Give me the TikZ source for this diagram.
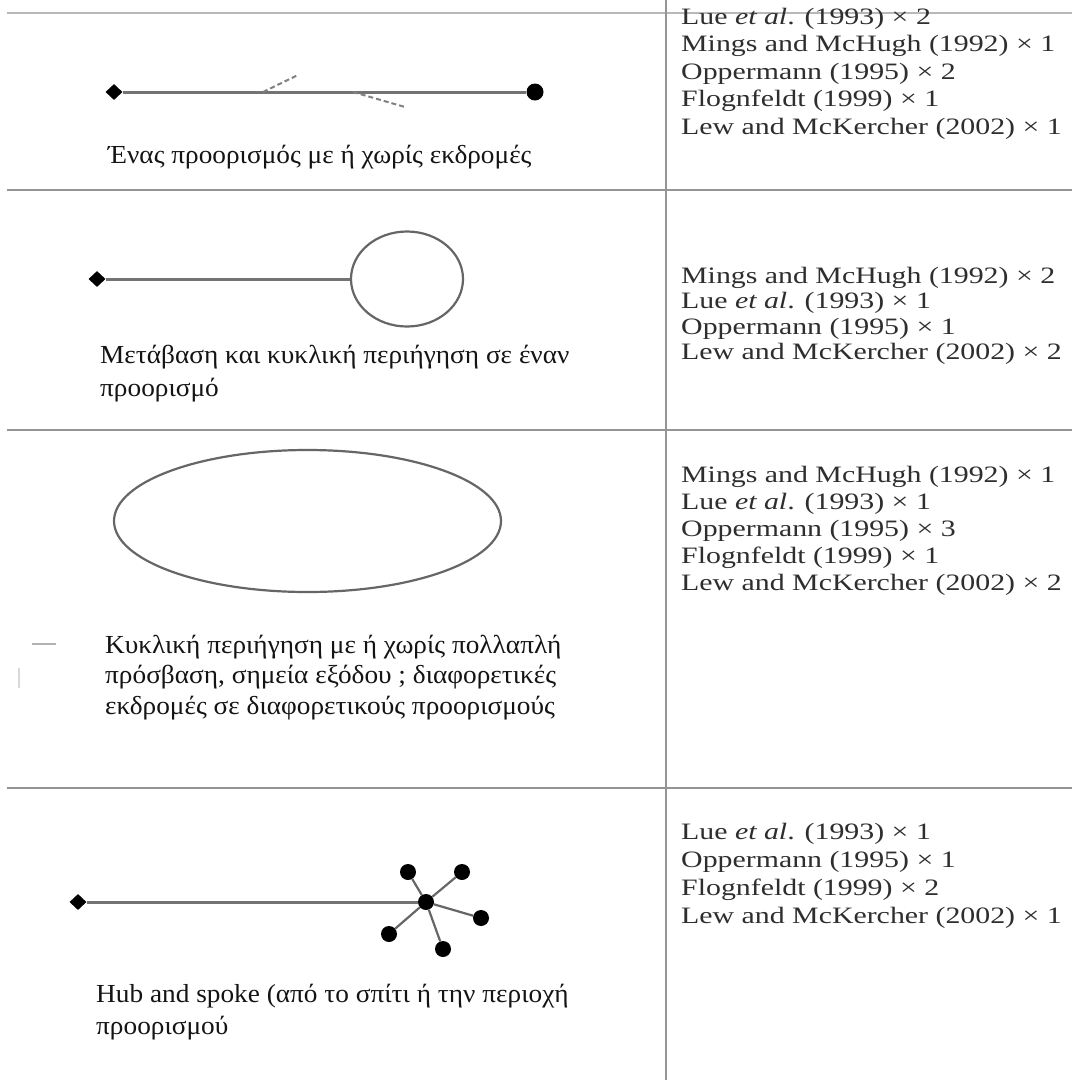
\documentclass[tikz,border=0pt]{standalone}
\usepackage{fontspec}
\setmainfont{Liberation Serif}
\newfontfamily\reffont[FakeStretch=1.27]{Liberation Serif}
\newfontfamily\capfont[FakeStretch=1.05]{Liberation Serif}
\usetikzlibrary{shapes.geometric}
\begin{document}
\begin{tikzpicture}[x=1pt,y=-1pt,
 rule/.style={draw=black!42, line width=2.5pt},
 stopdia/.style={diamond, fill=black, inner sep=0pt, minimum width=17pt, minimum height=16pt},
 blackdot/.style={circle, fill=black, inner sep=0pt, minimum size=17pt},
 hubdot/.style={circle, fill=black, inner sep=0pt, minimum size=16pt},
 route/.style={draw=black!55, line width=3pt},
 spoke/.style={draw=black!60, line width=2.2pt},
 loopline/.style={draw=black!60, line width=2.2pt},
 excur/.style={draw=black!50, line width=2pt, dash pattern=on 5pt off 3pt},
 cite/.style={anchor=base west, inner sep=0pt, text=black!82, font=\reffont\fontsize{23.5}{27}\selectfont},
 caption/.style={anchor=base west, inner sep=0pt, text=black!92, font=\capfont\fontsize{26}{32}\selectfont}
]
\useasboundingbox (0,0) rectangle (1072,1080);
\fill[white] (0,0) rectangle (1072,1080);

% table rules
\draw[rule, draw=black!28, line width=2pt] (7,13) -- (1072,13);
\draw[rule] (7,190) -- (1072,190);
\draw[rule] (7,430) -- (1072,430);
\draw[rule] (7,788) -- (1072,788);
\draw[rule] (666,0) -- (666,1080);

% faint scan marks
\draw[draw=black!30, line width=2pt] (32,644) -- (56,644);
\draw[draw=black!15, line width=1.5pt] (19,668) -- (19,688);

% ---------- row 1 ----------
\node[stopdia] (r1a) at (114,92) {};
\node[blackdot] (r1b) at (535,92) {};
\draw[route] (r1a) -- (r1b);
\coordinate (x1s) at (263,92);
\coordinate (x1e) at (298,75);
\coordinate (x2s) at (353,92);
\coordinate (x2e) at (405,107);
\draw[excur] (x1s) -- (x1e);
\draw[excur] (x2s) -- (x2e);
\node[caption] (t1) at (108,163) {Ένας προορισμός με ή χωρίς εκδρομές};

\node[cite] (c11) at (681,24) {Lue \textit{et al}. (1993) × 2};
\node[cite] (c12) at (681,51.5) {Mings and McHugh (1992) × 1};
\node[cite] (c13) at (681,79) {Oppermann (1995) × 2};
\node[cite] (c14) at (681,106.5) {Flognfeldt (1999) × 1};
\node[cite] (c15) at (681,134) {Lew and McKercher (2002) × 1};

% ---------- row 2 ----------
\node[stopdia] (r2a) at (97,279) {};
\node[ellipse, loopline, minimum width=112pt, minimum height=95pt, inner sep=0pt] (r2c) at (407,279) {};
\draw[route] (r2a) -- (r2c.west);
\node[caption] (t2a) at (100,363) {Μετάβαση και κυκλική περιήγηση σε έναν};
\node[caption] (t2b) at (100,396) {προορισμό};

\node[cite] (c21) at (681,283) {Mings and McHugh (1992) × 2};
\node[cite] (c22) at (681,308.5) {Lue \textit{et al}. (1993) × 1};
\node[cite] (c23) at (681,334) {Oppermann (1995) × 1};
\node[cite] (c24) at (681,359.5) {Lew and McKercher (2002) × 2};

% ---------- row 3 ----------
\node[ellipse, loopline, minimum width=387pt, minimum height=142pt, inner sep=0pt] (r3e) at (307.5,521) {};
\node[caption] (t3a) at (105,653) {Κυκλική περιήγηση με ή χωρίς πολλαπλή};
\node[caption] (t3b) at (105,683.5) {πρόσβαση, σημεία εξόδου ; διαφορετικές};
\node[caption] (t3c) at (105,714) {εκδρομές σε διαφορετικούς προορισμούς};

\node[cite] (c31) at (681,482) {Mings and McHugh (1992) × 1};
\node[cite] (c32) at (681,509) {Lue \textit{et al}. (1993) × 1};
\node[cite] (c33) at (681,536) {Oppermann (1995) × 3};
\node[cite] (c34) at (681,563) {Flognfeldt (1999) × 1};
\node[cite] (c35) at (681,590) {Lew and McKercher (2002) × 2};

% ---------- row 4 ----------
\node[stopdia] (r4a) at (78,902) {};
\node[hubdot] (hub) at (426,902) {};
\node[hubdot] (s1) at (408,872) {};
\node[hubdot] (s2) at (462,872) {};
\node[hubdot] (s3) at (481,918) {};
\node[hubdot] (s4) at (389,934) {};
\node[hubdot] (s5) at (443,949) {};
\draw[route] (r4a) -- (hub);
\foreach \s in {s1,s2,s3,s4,s5} \draw[spoke] (hub) -- (\s);
\node[caption] (t4a) at (96,1002) {Hub and spoke (από το σπίτι ή την περιοχή};
\node[caption] (t4b) at (96,1034) {προορισμού};

\node[cite] (c41) at (681,839) {Lue \textit{et al}. (1993) × 1};
\node[cite] (c42) at (681,867) {Oppermann (1995) × 1};
\node[cite] (c43) at (681,895) {Flognfeldt (1999) × 2};
\node[cite] (c44) at (681,923) {Lew and McKercher (2002) × 1};
\end{tikzpicture}
\end{document}
